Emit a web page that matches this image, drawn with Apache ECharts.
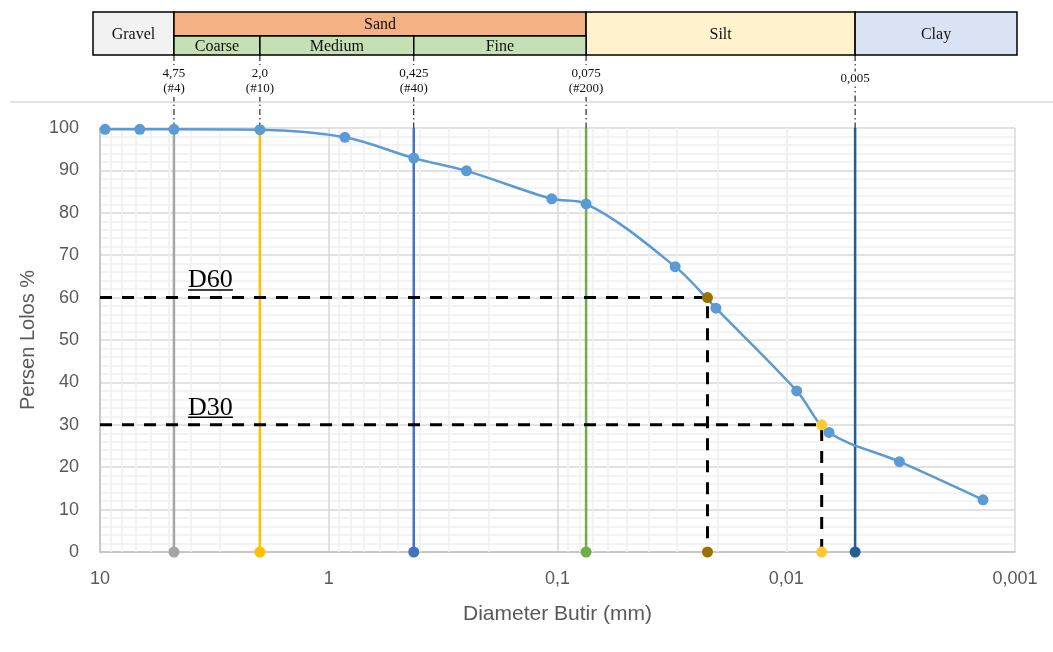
<!DOCTYPE html>
<html><head><meta charset="utf-8">
<script src="https://cdn.jsdelivr.net/npm/echarts@6/dist/echarts.min.js"></script>
<style>html,body{margin:0;padding:0;background:#fff}#c{width:1053px;height:652px}</style>
</head><body><div id="c"></div>
<script>
// ---- data ----
const sieveSize = [9.5, 6.7, 4.75, 2.0, 0.85, 0.425, 0.25, 0.106, 0.075, 0.0306, 0.0203, 0.009, 0.0065, 0.0032, 0.00138];
const percentPassing = [99.7, 99.7, 99.7, 99.6, 97.8, 92.9, 89.9, 83.3, 82.1, 67.3, 57.5, 38.0, 28.2, 21.3, 12.3];
const boundaryValues = [4.75, 2.0, 0.425, 0.075, 0.005];
const boundaryColors = ['#A5A5A5', '#FFC000', '#4472C4', '#70AD47', '#255E91'];
const boundaryLabels = [['4,75', '(#4)'], ['2,0', '(#10)'], ['0,425', '(#40)'], ['0,075', '(#200)'], ['0,005']];
const d60Size = 0.0221, d60Value = 60;
const d30Size = 0.0070, d30Value = 30;
const xTickValues = [10, 1, 0.1, 0.01, 0.001];
const xTickLabels = ['10', '1', '0,1', '0,01', '0,001'];
const minorMantissas = [2, 3, 4, 5, 6, 7, 8, 9];
const minorDecades = [0.001, 0.01, 0.1, 1];
const mainBands = [
  { name: 'Gravel', from: 10, to: 4.75, color: '#F2F2F2', full: true },
  { name: 'Sand', from: 4.75, to: 0.075, color: '#F4B183', full: false },
  { name: 'Silt', from: 0.075, to: 0.005, color: '#FFF2CC', full: true },
  { name: 'Clay', from: 0.005, to: 0.001, color: '#DAE3F3', full: true }
];
const subBands = [
  { name: 'Coarse', from: 4.75, to: 2.0 },
  { name: 'Medium', from: 2.0, to: 0.425 },
  { name: 'Fine', from: 0.425, to: 0.075 }
];

const minorGrid = [];
minorDecades.forEach(d => minorMantissas.forEach(m => minorGrid.push(+(m * d).toPrecision(3))));

const chart = echarts.init(document.getElementById('c'));
const sans = 'Liberation Sans';

const series = [];
series.push({
  type: 'line', data: [], silent: true, z: 1,
  markLine: {
    silent: true, z: 1, symbol: ['none', 'none'], label: { show: false },
    lineStyle: { color: '#EFEFEF', width: 1.5, type: 'solid' },
    emphasis: { disabled: true },
    data: minorGrid.map(v => ({ xAxis: v }))
  }
});
boundaryValues.forEach((v, i) => {
  series.push({
    type: 'line', silent: true, z: 3,
    data: [{ value: [v, 0], symbol: 'circle', symbolSize: 11 }, { value: [v, 100], symbol: 'none' }],
    lineStyle: { color: boundaryColors[i], width: 2.5 },
    itemStyle: { color: boundaryColors[i] }
  });
});
[[d60Size, d60Value], [d30Size, d30Value]].forEach(p => {
  series.push({
    type: 'line', silent: true, z: 4, symbol: 'none',
    data: [[10, p[1]], [p[0], p[1]], [p[0], 0]],
    lineStyle: { color: '#000', width: 3, type: [12, 10] }
  });
});
series.push({
  type: 'line', silent: true, z: 5, smooth: 0.35,
  data: sieveSize.map((s, i) => [s, percentPassing[i]]),
  symbol: 'circle', symbolSize: 11,
  lineStyle: { color: '#5B9BD5', width: 2.5 },
  itemStyle: { color: '#5B9BD5' }
});
series.push({
  type: 'scatter', silent: true, z: 6, symbolSize: 11,
  data: [[d60Size, d60Value], [d60Size, 0]], itemStyle: { color: '#9A7200', opacity: 1 }
});
series.push({
  type: 'scatter', silent: true, z: 6, symbolSize: 11,
  data: [[d30Size, d30Value], [d30Size, 0]], itemStyle: { color: '#FFC933', opacity: 1 }
});

chart.setOption({
  animation: false,
  backgroundColor: '#fff',
  grid: { left: 100, right: 38, top: 128, bottom: 100 },
  xAxis: {
    type: 'log', logBase: 10, min: 0.001, max: 10, inverse: true,
    axisLine: { show: true, lineStyle: { color: '#BFBFBF', width: 1.5 } },
    axisTick: { show: false },
    splitLine: { show: true, lineStyle: { color: '#D9D9D9', width: 1.5 } },
    axisLabel: {
      margin: 18, color: '#595959', fontFamily: sans, fontSize: 18,
      formatter: v => { const i = xTickValues.findIndex(t => Math.abs(Math.log10(t) - Math.log10(v)) < 1e-6); return i >= 0 ? xTickLabels[i] : ''; }
    },
    name: 'Diameter Butir (mm)', nameLocation: 'middle', nameGap: 52,
    nameTextStyle: { color: '#595959', fontFamily: sans, fontSize: 21 }
  },
  yAxis: {
    type: 'value', min: 0, max: 100, interval: 10,
    axisLine: { show: true, lineStyle: { color: '#BFBFBF', width: 1.5 } },
    axisTick: { show: false },
    splitLine: { show: true, lineStyle: { color: '#D9D9D9', width: 1.5 } },
    minorTick: { show: false, splitNumber: 5 },
    minorSplitLine: { show: true, lineStyle: { color: '#EFEFEF', width: 1.5 } },
    axisLabel: { margin: 21, color: '#595959', fontFamily: sans, fontSize: 18 },
    name: 'Persen Lolos %', nameLocation: 'middle', nameGap: 62,
    nameTextStyle: { color: '#595959', fontFamily: sans, fontSize: 20 }
  },
  series: series
});

function px(v) { return chart.convertToPixel({ xAxisIndex: 0 }, v); }
function py(v) { return chart.convertToPixel({ yAxisIndex: 0 }, v); }

const g = [];
const hTop = 12, hMid = 36, hBot = 55;
const left0 = px(10) - 7, right0 = px(0.001) + 2;
const headFont = '16px "Liberation Serif"';
g.push({ type: 'line', shape: { x1: 10, y1: 102, x2: 1053, y2: 102 }, style: { stroke: '#D9D9D9', lineWidth: 1.5 }, z: 1 });
mainBands.forEach(b => {
  const x1 = b.from === 10 ? left0 : px(b.from);
  const x2 = b.to === 0.001 ? right0 : px(b.to);
  const y2 = b.full ? hBot : hMid;
  g.push({ type: 'rect', shape: { x: x1, y: hTop, width: x2 - x1, height: y2 - hTop }, style: { fill: b.color, stroke: '#000', lineWidth: 1.5 }, z: 10 });
  g.push({ type: 'text', x: (x1 + x2) / 2, y: (hTop + y2) / 2 + 1, style: { text: b.name, font: headFont, fill: '#111', align: 'center', verticalAlign: 'middle' }, z: 11 });
});
subBands.forEach(b => {
  const x1 = px(b.from), x2 = px(b.to);
  g.push({ type: 'rect', shape: { x: x1, y: hMid, width: x2 - x1, height: hBot - hMid }, style: { fill: '#C5E0B4', stroke: '#000', lineWidth: 1.5 }, z: 10 });
  g.push({ type: 'text', x: (x1 + x2) / 2, y: (hMid + hBot) / 2 + 1, style: { text: b.name, font: headFont, fill: '#111', align: 'center', verticalAlign: 'middle' }, z: 11 });
});
boundaryValues.forEach((v, i) => {
  const x = px(v);
  g.push({ type: 'line', shape: { x1: x, y1: hBot, x2: x, y2: py(100) }, style: { stroke: '#000', lineWidth: 1, lineDash: [6, 3, 1.5, 3] }, z: 2 });
  const lab = boundaryLabels[i];
  if (lab.length === 2) {
    g.push({ type: 'text', x: x, y: 81, style: { text: lab[0] + '\n' + lab[1], font: '13px "Liberation Serif"', lineHeight: 15, fill: '#111', align: 'center', verticalAlign: 'middle', backgroundColor: '#fff', padding: [1, 1] }, z: 3 });
  } else {
    g.push({ type: 'text', x: x, y: 79, style: { text: lab[0], font: '13px "Liberation Serif"', fill: '#111', align: 'center', verticalAlign: 'middle', backgroundColor: '#fff', padding: [1, 1] }, z: 3 });
  }
});
const ctx = document.createElement('canvas').getContext('2d');
ctx.font = '26px "Liberation Serif"';
[['D60', d60Value], ['D30', d30Value]].forEach(d => {
  const x = px(4.12), base = py(d[1]);
  const w = ctx.measureText(d[0]).width;
  g.push({ type: 'text', x: x, y: base - 4, style: { text: d[0], font: '26px "Liberation Serif"', fill: '#000', align: 'left', verticalAlign: 'bottom' }, z: 12 });
  g.push({ type: 'line', shape: { x1: x, y1: base - 7.5, x2: x + w, y2: base - 7.5 }, style: { stroke: '#000', lineWidth: 1.5 }, z: 12 });
});
chart.setOption({ graphic: g });
</script></body></html>
